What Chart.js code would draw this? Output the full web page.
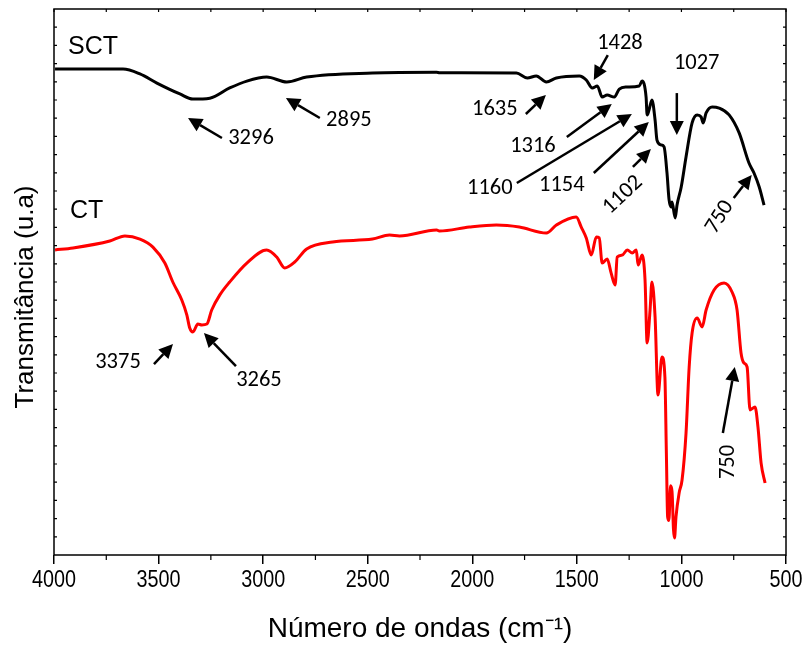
<!DOCTYPE html>
<html>
<head>
<meta charset="utf-8">
<script src="https://cdn.jsdelivr.net/npm/chart.js@4.4.1/dist/chart.umd.min.js"></script>
<style>
  html, body { margin: 0; padding: 0; background: #fff; }
  canvas { display: block; }
</style>
</head>
<body>
<canvas id="ftir" width="806" height="646"></canvas>
<script>
// numero de ondas (cm-1) e transmitancia (u.a)
const sctOndas = [3995, 3670, 3589, 3508, 3398, 3336, 3255, 3160, 3078, 2983, 2887, 2792, 2477, 2171, 2157,
  1789, 1737, 1694, 1646, 1598, 1488, 1455, 1426, 1402, 1379, 1355, 1321, 1297, 1264, 1202, 1188, 1169,
  1164, 1155, 1141, 1126, 1117, 1097, 1083, 1069, 1059, 1049, 1045, 1030, 1021, 1001, 978, 949, 925, 906,
  896, 882, 853, 820, 772, 724, 677, 653, 628, 605];
const sctTrans = [26.70, 26.70, 26.43, 25.93, 25.33, 25.05, 25.10, 25.66, 26.04, 26.26, 25.99, 26.26, 26.48, 26.52, 26.50,
  26.48, 26.21, 26.32, 25.99, 26.21, 26.32, 26.10, 25.66, 25.77, 25.16, 25.27, 25.16, 25.60, 25.71, 25.77, 26.04, 25.16,
  24.18, 24.45, 25.00, 23.90, 22.80, 22.53, 22.42, 20.99, 19.51, 19.12, 19.40, 18.52, 19.23, 20.22, 21.87, 23.74, 24.18, 24.07,
  23.74, 24.29, 24.62, 24.56, 24.18, 23.19, 21.54, 20.99, 20.22, 19.23];

const ctOndas = [3995, 3909, 3733, 3661, 3589, 3527, 3470, 3432, 3389, 3365, 3351, 3336, 3312, 3293, 3269, 3246,
  3207, 3160, 3078, 2983, 2935, 2897, 2849, 2792, 2668, 2477, 2396, 2348, 2171, 2157, 2014, 1885, 1775, 1646,
  1598, 1503, 1479, 1455, 1431, 1407, 1393, 1379, 1355, 1336, 1317, 1307, 1283, 1259, 1235, 1216, 1207, 1188,
  1174, 1164, 1150, 1141, 1126, 1112, 1093, 1079, 1072, 1066, 1060, 1052, 1045, 1038, 1033, 1026, 1011, 997, 978, 963,
  949, 925, 901, 882, 844, 796, 758, 734, 715, 701, 686, 672, 648, 634, 619, 600];
const ctTrans = [16.76, 16.87, 17.25, 17.53, 17.36, 16.92, 16.04, 15.00, 14.01, 13.19, 12.47, 12.25, 12.69, 12.64, 12.69, 13.46,
  14.29, 15.00, 16.04, 16.76, 16.37, 15.77, 16.10, 16.81, 17.20, 17.36, 17.58, 17.53, 17.86, 17.80, 18.02, 18.13, 18.02, 17.69,
  18.13, 18.57, 18.02, 17.42, 16.48, 17.47, 17.42, 16.04, 16.26, 15.49, 14.84, 16.37, 16.48, 16.76, 16.59, 16.76, 15.93, 16.48,
  15.11, 11.65, 13.46, 15.00, 13.08, 8.79, 10.88, 9.78, 5.60, 2.10, 1.90, 3.80, 3.50, 1.40, 0.93, 2.10, 3.41, 4.12, 6.70, 10.33,
  12.20, 13.02, 12.53, 13.46, 14.56, 14.95, 14.45, 13.46, 11.10, 10.55, 10.33, 7.97, 8.13, 7.03, 5.05, 3.96];

const xTicks = [4000, 3500, 3000, 2500, 2000, 1500, 1000, 500];

// anotacoes: texto, posicao do texto, cauda e ponta da seta (em unidades dos eixos)
const anotacoes = [
  { txt: '3296', x: 3058, y: 22.91, ang: 0, de: [3197, 22.91], para: [3359, 24.01] },
  { txt: '2895', x: 2590, y: 23.90, ang: 0, de: [2729, 24.01], para: [2891, 25.11] },
  { txt: '1428', x: 1294, y: 28.13, ang: 0, de: [1352, 27.47], para: [1419, 26.10] },
  { txt: '1027', x: 927, y: 27.03, ang: 0, de: [1022, 25.38], para: [1022, 23.08] },
  { txt: '1635', x: 1892, y: 24.51, ang: 0, de: [1744, 24.23], para: [1648, 25.27] },
  { txt: '1316', x: 1710, y: 22.47, ang: 0, de: [1548, 22.97], para: [1333, 24.78] },
  { txt: '1160', x: 1916, y: 20.16, ang: 0, de: [1787, 20.44], para: [1237, 24.23] },
  { txt: '1154', x: 1572, y: 20.33, ang: 0, de: [1419, 20.99], para: [1156, 23.79] },
  { txt: '1102', x: 1280, y: 19.78, ang: -43, de: [1232, 21.32], para: [1146, 22.31] },
  { txt: '750', x: 817, y: 18.57, ang: -58, de: [750, 19.62], para: [664, 20.88] },
  { txt: '3375', x: 3694, y: 10.60, ang: 0, de: [3522, 10.49], para: [3431, 11.59] },
  { txt: '3265', x: 3020, y: 9.62, ang: 0, de: [3130, 10.38], para: [3283, 12.20] },
  { txt: '750', x: 774, y: 5.11, ang: -90, de: [802, 6.70], para: [745, 10.33] }
];
const rotulos = [
  { txt: 'SCT', x: 3933, y: 27.91 },
  { txt: 'CT', x: 3924, y: 18.90 }
];
const tituloY = 'Transmitância (u.a)';

function pares(xs, ys) {
  return xs.map(function(v, i) { return { x: v, y: ys[i] }; });
}

function seta(ctx, x1, y1, x2, y2) {
  const a = Math.atan2(y2 - y1, x2 - x1);
  const L = 14, W = 7;
  const bx = x2 - L * Math.cos(a), by = y2 - L * Math.sin(a);
  ctx.beginPath();
  ctx.moveTo(x1, y1);
  ctx.lineTo(bx, by);
  ctx.stroke();
  ctx.beginPath();
  ctx.moveTo(x2, y2);
  ctx.lineTo(bx + W * Math.sin(a), by - W * Math.cos(a));
  ctx.lineTo(bx - W * Math.sin(a), by + W * Math.cos(a));
  ctx.closePath();
  ctx.fill();
}

const moldura = {
  id: 'moldura',
  afterDatasetsDraw(chart) {
    const ctx = chart.ctx;
    const a = chart.chartArea;
    const sx = chart.scales.x, sy = chart.scales.y;
    ctx.save();
    ctx.strokeStyle = '#000';
    ctx.fillStyle = '#000';
    ctx.lineWidth = 1.5;
    ctx.strokeRect(a.left, a.top, a.right - a.left, a.bottom - a.top);

    // marcas menores
    ctx.lineWidth = 1.2;
    ctx.beginPath();
    for (let v = 500; v <= 4000; v += 250) {
      const px = sx.getPixelForValue(v);
      ctx.moveTo(px, a.top);
      ctx.lineTo(px, a.top + 3);
      if (v % 500 !== 0) {
        ctx.moveTo(px, a.bottom);
        ctx.lineTo(px, a.bottom + 5);
      }
    }
    for (let v = 1; v < 30; v++) {
      const py = sy.getPixelForValue(v);
      ctx.moveTo(a.left, py);
      ctx.lineTo(a.left + 3, py);
      ctx.moveTo(a.right, py);
      ctx.lineTo(a.right - 3, py);
    }
    ctx.stroke();

    // rotulos do eixo x, fonte estreita
    ctx.font = '23px "Liberation Sans", Arial, sans-serif';
    ctx.textAlign = 'center';
    ctx.textBaseline = 'middle';
    xTicks.forEach(function(v) {
      ctx.save();
      ctx.translate(sx.getPixelForValue(v), a.bottom + 26);
      ctx.scale(0.86, 1);
      ctx.fillText(String(v), 0, 0);
      ctx.restore();
    });

    // titulo do eixo y
    ctx.save();
    ctx.font = '26px "Liberation Sans", Arial, sans-serif';
    ctx.translate(26, (a.top + a.bottom) / 2 + 15);
    ctx.rotate(-Math.PI / 2);
    ctx.fillText(tituloY, 0, 0);
    ctx.restore();

    // setas e numeros
    ctx.lineWidth = 2.5;
    anotacoes.forEach(function(n) {
      seta(ctx, sx.getPixelForValue(n.de[0]), sy.getPixelForValue(n.de[1]),
        sx.getPixelForValue(n.para[0]), sy.getPixelForValue(n.para[1]));
    });
    ctx.font = '22.5px Carlito, Lato, sans-serif';
    anotacoes.forEach(function(n) {
      ctx.save();
      ctx.translate(sx.getPixelForValue(n.x), sy.getPixelForValue(n.y));
      ctx.rotate(n.ang * Math.PI / 180);
      ctx.fillText(n.txt, 0, 0);
      ctx.restore();
    });
    ctx.font = '25px "Liberation Sans", Arial, sans-serif';
    ctx.textAlign = 'left';
    rotulos.forEach(function(r) {
      ctx.fillText(r.txt, sx.getPixelForValue(r.x), sy.getPixelForValue(r.y));
    });
    ctx.restore();
  }
};

new Chart(document.getElementById('ftir'), {
  type: 'line',
  data: {
    datasets: [
      { label: 'SCT', data: pares(sctOndas, sctTrans), borderColor: '#000000', borderWidth: 3,
        pointRadius: 0, cubicInterpolationMode: 'monotone' },
      { label: 'CT', data: pares(ctOndas, ctTrans), borderColor: '#ff0000', borderWidth: 3,
        pointRadius: 0, cubicInterpolationMode: 'monotone' }
    ]
  },
  options: {
    responsive: false,
    animation: false,
    layout: { padding: { top: 9, right: 20, left: 0, bottom: 0 } },
    plugins: { legend: { display: false }, tooltip: { enabled: false } },
    scales: {
      x: {
        type: 'linear',
        reverse: true,
        min: 500,
        max: 4000,
        afterBuildTicks: function(s) { s.ticks = xTicks.map(function(v) { return { value: v }; }); },
        afterFit: function(s) { s.height = 91; },
        ticks: { display: false },
        grid: { drawOnChartArea: false, color: '#000', lineWidth: 1.5, tickLength: 9 },
        border: { display: false },
        title: {
          display: true,
          text: 'Número de ondas (cm⁻¹)',
          color: '#000',
          padding: { top: 4, bottom: 0 },
          font: { family: '"Liberation Sans", Arial, sans-serif', size: 28 }
        }
      },
      y: {
        min: 0,
        max: 30,
        afterFit: function(s) { s.width = 54; },
        ticks: { display: false },
        grid: { display: false },
        border: { display: false }
      }
    }
  },
  plugins: [moldura]
});
</script>
</body>
</html>
